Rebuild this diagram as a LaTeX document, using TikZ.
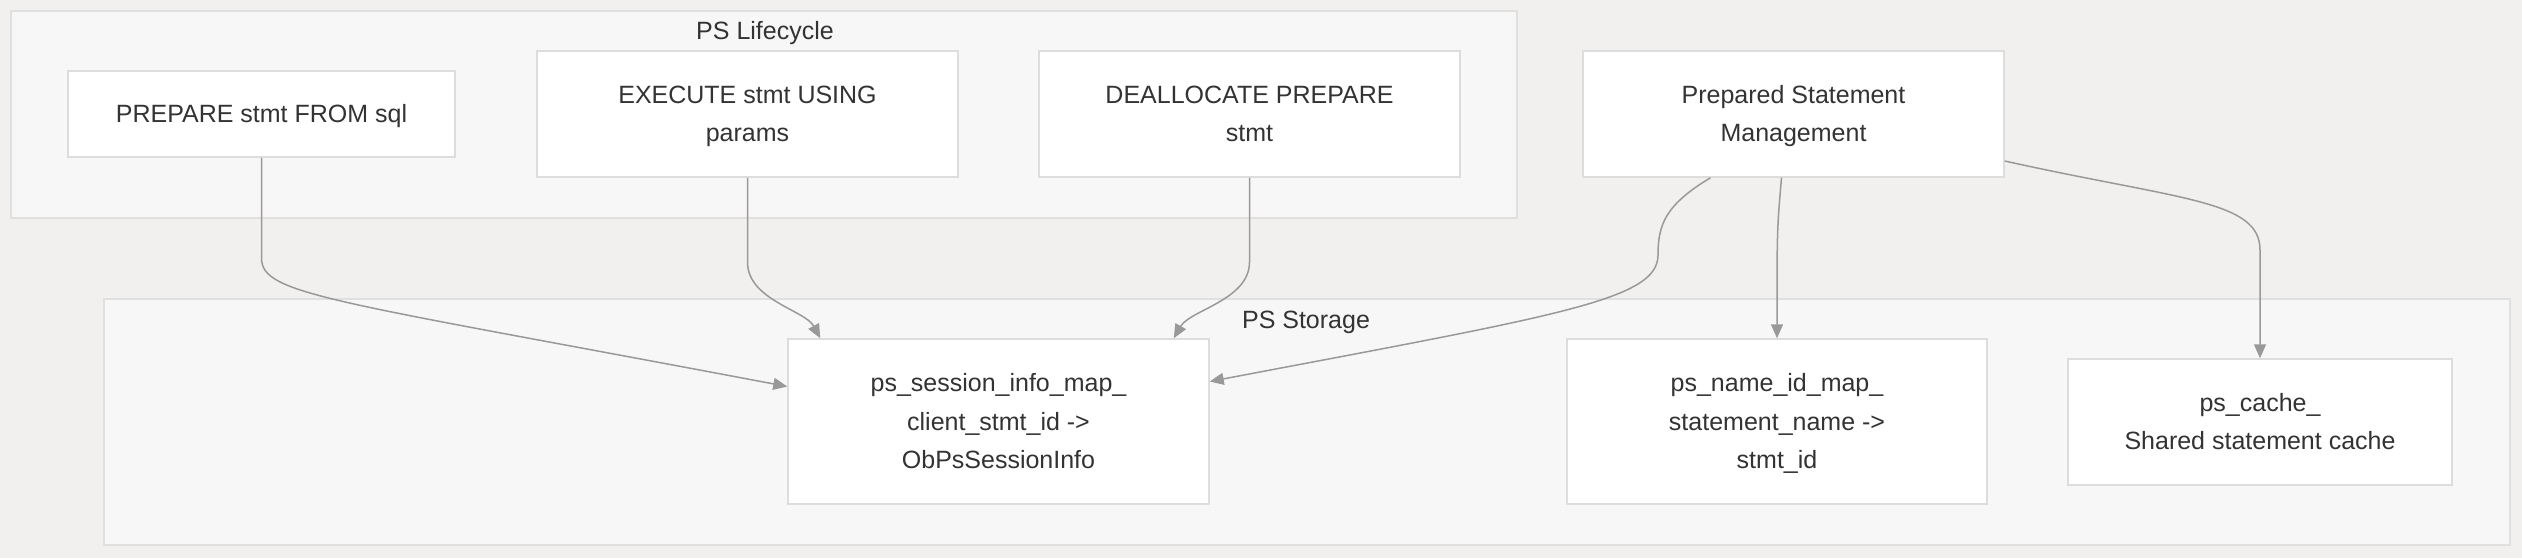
\documentclass[tikz,border=0pt]{standalone}
\usepackage{fontspec}
\setmainfont{Liberation Sans}
\usepackage{tikz}
\usetikzlibrary{calc,arrows.meta}
\definecolor{bgcol}{HTML}{F1F0EF}
\definecolor{clfill}{HTML}{F7F7F7}
\definecolor{cldraw}{HTML}{E0E0E0}
\definecolor{boxdraw}{HTML}{DDDDDD}
\definecolor{txt}{HTML}{333333}
\definecolor{linecol}{HTML}{999999}
\newcommand{\ls}{\rule[-10.6pt]{0pt}{38.5pt}}
\begin{document}
\begin{tikzpicture}[x=1pt,y=-1pt,
box/.style={draw=boxdraw,fill=white,line width=1.5pt,align=center,text=txt,inner sep=0pt,font=\fontsize{25}{38.5}\selectfont},
cluster/.style={draw=cldraw,fill=clfill,line width=2pt},
title/.style={text=txt,font=\fontsize{25}{30}\selectfont},
flow/.style={draw=linecol,line width=1.5pt,-{Triangle[length=14pt,width=12pt]}}]
\fill[bgcol](0,0) rectangle (2522,558);
\useasboundingbox (0,0) rectangle (2522,558);
\draw[cluster](11,11) rectangle (1517,218);
\draw[cluster](104,299) rectangle (2510,545);
\node[title] (lifet) at (765,33){PS Lifecycle};
\node[title] (stort) at (1306,322){PS Storage};
\node[box,minimum width=387,minimum height=86] (prep) at (261.5,114){\ls PREPARE stmt FROM sql\ls};
\node[box,minimum width=421,minimum height=126] (exec) at (747.5,114){\ls EXECUTE stmt USING\\params\ls};
\node[box,minimum width=421,minimum height=126] (dealloc) at (1249.5,114){\ls DEALLOCATE PREPARE\\stmt\ls};
\node[box,minimum width=421,minimum height=126] (psm) at (1793.5,114){\ls Prepared Statement\\Management\ls};
\node[box,minimum width=421,minimum height=165] (sess) at (998.5,421.5){\ls ps\_session\_info\_map\_\\client\_stmt\_id ->\\ObPsSessionInfo\ls};
\node[box,minimum width=420,minimum height=165] (nameid) at (1777,421.5){\ls ps\_name\_id\_map\_\\statement\_name ->\\stmt\_id\ls};
\node[box,minimum width=384,minimum height=126] (cache) at (2260,422){\ls ps\_cache\_\\Shared statement cache\ls};
\draw[flow](prep.south)--(261.5,258) .. controls (261.5,295) and (330,300) .. ($(sess.west)+(0,-35)$);
\draw[flow](exec.south)--(747.5,262) .. controls (747.5,300) and (805,310) .. ($(sess.north west)+(33,0)$);
\draw[flow](dealloc.south)--(1249.5,262) .. controls (1249.5,300) and (1190,310) .. ($(sess.north east)+(-36,0)$);
\draw[flow]($(psm.south)+(-83,0)$) .. controls (1665,205) and (1658,225) .. (1658,255) .. controls (1658,300) and (1560,315) .. ($(sess.east)+(0,-40)$);
\draw[flow]($(psm.south)+(-12,0)$) .. controls (1777,230) .. (nameid.north);
\draw[flow]($(psm.east)+(0,47)$) .. controls (2180,200) and (2260,200) .. (2260,250)--(cache.north);
\end{tikzpicture}
\end{document}
